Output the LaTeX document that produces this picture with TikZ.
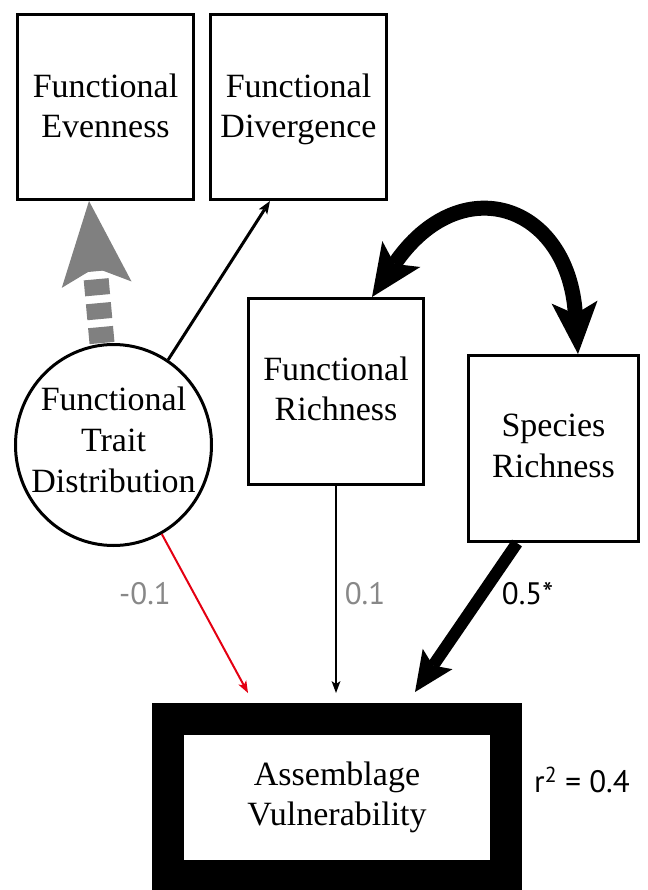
\documentclass[tikz,border=0pt]{standalone}
\usepackage{fontspec}
\setmainfont{Liberation Serif}
\newfontfamily\labfont{PT Sans}
\usetikzlibrary{arrows.meta,shapes.geometric}
\definecolor{midgray}{RGB}{136,136,136}
\definecolor{arrowgray}{RGB}{128,128,128}
\definecolor{pathred}{RGB}{228,0,18}
\newcommand{\lastd}[2]{\raisebox{0pt}[\height][#1]{#2}}
\begin{document}
\begin{tikzpicture}[x=1pt,y=-1pt,
  box/.style={draw, line width=3pt, rectangle, align=center, inner sep=0pt,
    font=\fontsize{34}{40}\selectfont},
  circ/.style={draw, line width=3pt, ellipse, align=center, inner xsep=-20pt, inner ysep=0pt,
    font=\fontsize{34}{41}\selectfont},
  bigbox/.style={draw, line width=32pt, rectangle, align=center, inner sep=0pt,
    font=\fontsize{34}{40}\selectfont},
  lab/.style={inner sep=0pt, font=\labfont\fontsize{31}{36}\selectfont},
  thinarrow/.style={line width=3pt, -{Stealth[length=13pt,width=10pt,inset=3pt,line width=0pt]}},
  hairarrow/.style={line width=2pt, -{Stealth[length=12pt,width=9pt,inset=3pt,line width=0pt]}},
  fattip/.tip={Stealth[length=52pt,width=46pt,inset=12pt,line width=0pt]}
]
\useasboundingbox (0,0) rectangle (647,890);

\node[box, minimum width=176pt, minimum height=185pt] (fe) at (105.5,107) {Functional\\\lastd{3.2pt}{Evenness}};
\node[box, minimum width=176pt, minimum height=185pt] (fd) at (298.5,107) {Functional\\\lastd{3.2pt}{Divergence}};
\node[box, minimum width=175pt, minimum height=186pt] (fr) at (336,391.5) {Functional\\\lastd{6.2pt}{Richness}};
\node[box, minimum width=170pt, minimum height=186pt, font=\fontsize{34}{41}\selectfont] (sr) at (553.5,448.5) {Species\\\lastd{5.2pt}{Richness}};
\node[circ, minimum width=196pt, minimum height=201pt] (ftd) at (113.5,445) {Functional\\Trait\\\lastd{11.2pt}{Distribution}};
\node[bigbox, minimum width=338pt, minimum height=157pt] (av) at (337,797.5) {Assemblage\\\lastd{8.2pt}{Vulnerability}};

\coordinate (avin) at ([yshift=10pt]av.north);

% dashed grey arrow
\draw[arrowgray, line width=25pt, dash pattern=on 16pt off 8pt,
  -{Stealth[length=84pt,width=70pt,inset=17pt,line width=0pt]}]
  ([xshift=-11.5pt]ftd.north) -- ([xshift=-16.5pt]fe.south);

% thin black arrow to divergence
\draw[thinarrow] (ftd) -- ([xshift=-28.5pt]fd.south);

% red arrow
\draw[hairarrow, pathred] (ftd) -- ([xshift=-89pt]avin);

% vertical arrow
\draw[hairarrow] (fr.south) -- (fr.south |- avin);

% thick arrow from species richness
\draw[line width=12pt, -{Stealth[length=40pt,width=36pt,inset=8pt,line width=0pt]}]
  ([xshift=-36.5pt]sr.south) -- ([xshift=78pt,yshift=1pt]avin);

% curved double arrow
\draw[line width=15pt, fattip-fattip]
  ([xshift=-53pt]fr.north east) .. controls (460,168) and (568,203) .. ([xshift=24.5pt]sr.north);

% labels
\node[lab, text=midgray, anchor=base] (l1) at (145,604) {-0.1};
\node[lab, text=midgray, anchor=base] (l2) at (365,604) {0.1};
\node[lab, anchor=base] (l3) at (527.5,604) {0.5*};
\node[lab, anchor=base west] (r2) at (534,792) {r\textsuperscript{2} = 0.4};
\end{tikzpicture}
\end{document}
